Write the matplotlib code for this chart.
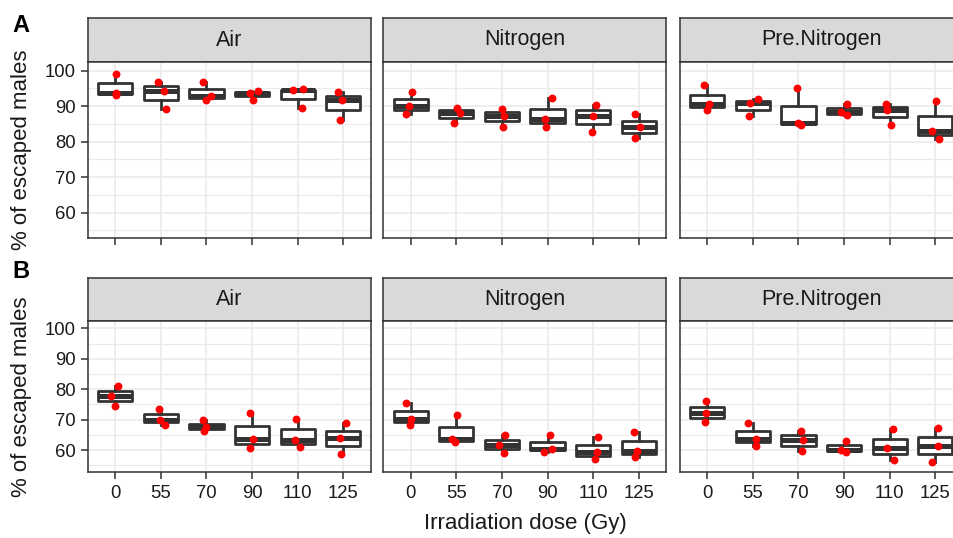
import matplotlib
matplotlib.use('Agg')
import matplotlib.pyplot as plt
import numpy as np

plt.rcParams['font.family'] = ['Liberation Sans', 'DejaVu Sans']

# data (3 replicates per dose)
doses = ['0', '55', '70', '90', '110', '125']
treatments = ['Air', 'Nitrogen', 'Pre.Nitrogen']

air_a = [[99.1, 93.6, 93.2], [96.9, 94.2, 89.3], [96.9, 92.7, 91.6],
         [93.7, 94.2, 91.8], [94.4, 94.7, 89.5], [93.9, 91.8, 86.0]]
nitrogen_a = [[93.9, 90.0, 87.9], [89.4, 88.1, 85.2], [89.3, 87.2, 84.1],
              [92.3, 86.3, 84.1], [90.4, 87.2, 82.7], [87.7, 84.1, 80.9]]
prenitrogen_a = [[95.8, 90.5, 88.8], [90.9, 92.1, 87.1], [95.0, 85.1, 84.6],
                 [90.5, 88.3, 87.4], [90.7, 88.8, 84.8], [91.3, 83.0, 80.6]]

air_b = [[81.2, 77.9, 74.4], [73.5, 70.0, 68.3], [70.0, 67.5, 66.4],
         [72.2, 63.6, 60.8], [70.3, 63.4, 60.9], [69.0, 63.9, 58.7]]
nitrogen_b = [[75.4, 70.3, 68.3], [71.5, 63.7, 62.6], [64.9, 61.7, 59.2],
              [64.9, 59.5, 60.5], [64.2, 59.3, 57.0], [66.1, 59.7, 57.9]]
prenitrogen_b = [[76.3, 72.2, 69.2], [68.9, 63.7, 61.4], [66.4, 63.3, 59.7],
                 [63.0, 60.2, 59.5], [66.8, 60.8, 56.8], [67.4, 61.4, 56.2]]

# horizontal jitter of the points (as seen in the picture)
jit_air_a = [[0.015, 0.015, 0.02], [-0.06, 0.07, 0.12], [-0.07, 0.1, -0.015],
             [-0.04, 0.12, 0.015], [-0.09, 0.11, 0.09], [-0.11, -0.02, -0.07]]
jit_nitrogen_a = [[0.02, -0.04, -0.1], [0.02, 0.08, -0.05], [0.0, 0.04, 0.015],
                  [0.09, -0.06, -0.04], [0.06, 0.0, -0.02], [-0.08, 0.03, -0.08]]
jit_prenitrogen_a = [[-0.07, 0.04, -0.01], [-0.07, 0.11, -0.09], [-0.04, 0.0, 0.05],
                     [0.07, -0.07, 0.06], [-0.07, -0.05, 0.02], [0.02, -0.07, 0.08]]
jit_air_b = [[0.05, -0.1, -0.015], [-0.05, -0.02, 0.09], [-0.07, 0.0, -0.05],
             [-0.04, 0.015, -0.04], [-0.04, -0.06, 0.06], [0.07, -0.07, -0.04]]
jit_nitrogen_b = [[-0.11, 0.0, -0.02], [0.02, -0.1, -0.03], [0.07, -0.07, 0.05],
                  [0.05, -0.07, 0.1], [0.11, 0.09, 0.04], [-0.11, -0.04, -0.07]]
jit_prenitrogen_b = [[-0.04, -0.04, -0.06], [-0.1, 0.06, 0.07], [0.06, 0.1, 0.07],
                     [0.05, -0.06, 0.05], [0.08, -0.05, 0.1], [0.07, 0.06, -0.07]]

rows = [
    ('A', [air_a, nitrogen_a, prenitrogen_a], [jit_air_a, jit_nitrogen_a, jit_prenitrogen_a]),
    ('B', [air_b, nitrogen_b, prenitrogen_b], [jit_air_b, jit_nitrogen_b, jit_prenitrogen_b]),
]

W, H = 954, 538
fig = plt.figure(figsize=(W / 100, H / 100), dpi=100)


def px_axes(x0, y0, x1, y1):
    return fig.add_axes([x0 / W, 1 - y1 / H, (x1 - x0) / W, (y1 - y0) / H])


cols = [(88, 370.5), (383.5, 666), (680, 962.5)]
strip_px = [(18, 62), (278, 321)]
panel_px = [(62, 238), (321, 472)]
tag_y = [26, 272]

dark = '#333333'
grid_c = '#EBEBEB'

for r, (tag, datasets, jits) in enumerate(rows):
    for c, (vals, jit) in enumerate(zip(datasets, jits)):
        x0, x1 = cols[c]
        # strip
        sax = px_axes(x0, strip_px[r][0], x1, strip_px[r][1])
        sax.set_facecolor('#D9D9D9')
        sax.set_xticks([])
        sax.set_yticks([])
        for sp in sax.spines.values():
            sp.set_color(dark)
            sp.set_linewidth(1.1)
        sax.text(0.5, 0.5, treatments[c], ha='center', va='center',
                 fontsize=15.5, color='#1A1A1A', transform=sax.transAxes)

        # panel
        ax = px_axes(x0, panel_px[r][0], x1, panel_px[r][1])
        pos = np.arange(len(doses))
        ax.boxplot(vals, positions=pos, widths=0.75, patch_artist=True,
                   showfliers=False, showcaps=False,
                   boxprops=dict(facecolor='white', edgecolor=dark, linewidth=2.0,
                                 joinstyle='round'),
                   whiskerprops=dict(color=dark, linewidth=2.0),
                   medianprops=dict(color=dark, linewidth=3.6,
                                    solid_capstyle='butt'),
                   zorder=2)
        for i in range(len(doses)):
            ax.scatter(pos[i] + np.array(jit[i]), vals[i], s=32, color='red',
                       linewidths=0, zorder=3)

        ax.set_xlim(-0.6, 5.6)
        ax.set_ylim(52.85, 102.4)
        ax.set_xticks(pos)
        ax.set_yticks([60, 70, 80, 90, 100])
        ax.set_yticks([55, 65, 75, 85, 95], minor=True)
        ax.set_axisbelow(True)
        ax.grid(which='major', color=grid_c, linewidth=1.2)
        ax.grid(which='minor', axis='y', color=grid_c, linewidth=0.8)
        for sp in ax.spines.values():
            sp.set_color(dark)
            sp.set_linewidth(1.1)
        ax.tick_params(which='minor', length=0)
        ax.tick_params(axis='both', which='major', length=5, width=1.1,
                       color=dark, labelsize=13.3, labelcolor='#1A1A1A', pad=4)
        if r == 1:
            ax.set_xticklabels(doses)
        else:
            ax.set_xticklabels([])
        if c != 0:
            ax.set_yticklabels([])
            ax.tick_params(axis='y', which='major', length=0)

    mid = (panel_px[r][0] + panel_px[r][1]) / 2
    fig.text(22 / W, 1 - mid / H, '% of escaped males', rotation=90,
             ha='center', va='center', fontsize=16, color='#1A1A1A')
    fig.text(12 / W, 1 - tag_y[r] / H, tag, ha='left', va='center',
             fontsize=17, fontweight='bold', color='black')

fig.text(525 / W, 1 - 523 / H, 'Irradiation dose (Gy)', ha='center', va='center',
         fontsize=16, color='#1A1A1A')

fig.savefig('out.png', dpi=100)
